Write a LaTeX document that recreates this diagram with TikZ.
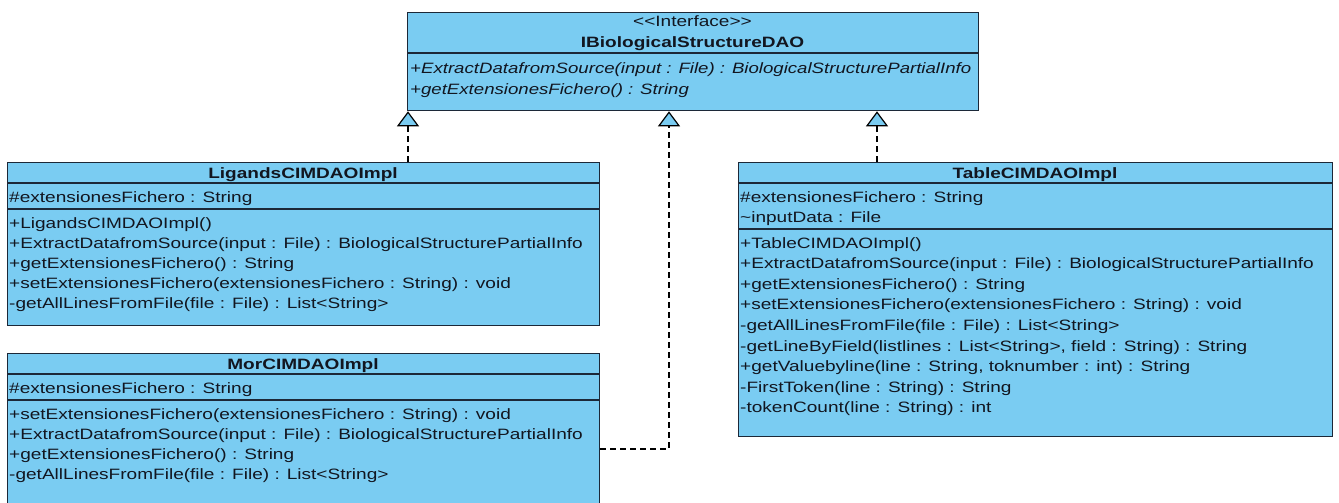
\documentclass[tikz,border=0pt]{standalone}
\usepackage{fontspec}
\setmainfont{Liberation Sans}[FakeStretch=1.27]
\usetikzlibrary{arrows.meta,calc}

\definecolor{umlfill}{RGB}{122,204,242}
\definecolor{umlline}{RGB}{28,40,56}
\definecolor{umltext}{RGB}{18,22,32}

\begin{document}
\begin{tikzpicture}[x=1pt,y=-1pt,
  classbox/.style={draw=umlline, fill=umlfill, line width=1.3pt, rectangle,
    inner sep=0pt, anchor=north west},
  sepline/.style={draw=umlline, line width=1.1pt},
  ctitle/.style={font=\fontsize{15}{18}\selectfont\bfseries, text=umltext,
    anchor=base, inner sep=0pt},
  stereo/.style={font=\fontsize{15}{18}\selectfont, text=umltext,
    anchor=base, inner sep=0pt},
  member/.style={font=\fontsize{15}{18}\selectfont, text=umltext,
    anchor=base west, inner sep=0pt},
  imember/.style={member, font=\fontsize{15}{18}\selectfont\itshape},
  realize/.style={draw=black, line width=1.2pt, dash pattern=on 6pt off 4pt,
    -{Triangle[length=15pt,width=22pt,fill=umlfill]}},
]
\path[use as bounding box, fill=white] (0,0) rectangle (1339,503);
\clip (0,0) rectangle (1339,503);

% ---------- interface ----------
\node[classbox, minimum width=571pt, minimum height=98pt] (iface) at (407,12) {};
\draw[sepline] ($(iface.north west)+(0,41)$) -- ($(iface.north east)+(0,41)$);
\node[stereo] (ifS) at (692.5,27) {<{}<Interface>{}>};
\node[ctitle] (ifT) at (692.5,48) {IBiologicalStructureDAO};
\node[imember] (ifM1) at (410,74) {\scalebox{0.978}[1]{+ExtractDatafromSource(input : File) : BiologicalStructurePartialInfo}};
\node[imember] (ifM2) at (410,95) {\scalebox{0.978}[1]{+getExtensionesFichero() : String}};

% ---------- LigandsCIMDAOImpl ----------
\node[classbox, minimum width=592pt, minimum height=163pt] (lig) at (7,162) {};
\draw[sepline] ($(lig.north west)+(0,21)$) -- ($(lig.north east)+(0,21)$);
\draw[sepline] ($(lig.north west)+(0,47)$) -- ($(lig.north east)+(0,47)$);
\node[ctitle] (ligT) at (303,178) {LigandsCIMDAOImpl};
\node[member] (ligA1) at (9,202) {\#extensionesFichero : String};
\node[member] (ligM1) at (9,228) {+LigandsCIMDAOImpl()};
\node[member] (ligM2) at (9,248) {+ExtractDatafromSource(input : File) : BiologicalStructurePartialInfo};
\node[member] (ligM3) at (9,268) {+getExtensionesFichero() : String};
\node[member] (ligM4) at (9,288) {+setExtensionesFichero(extensionesFichero : String) : void};
\node[member] (ligM5) at (9,308) {-getAllLinesFromFile(file : File) : List<String>};

% ---------- MorCIMDAOImpl ----------
\node[classbox, minimum width=592pt, minimum height=170pt] (mor) at (7,353) {};
\draw[sepline] ($(mor.north west)+(0,21)$) -- ($(mor.north east)+(0,21)$);
\draw[sepline] ($(mor.north west)+(0,47)$) -- ($(mor.north east)+(0,47)$);
\node[ctitle] (morT) at (303,369) {MorCIMDAOImpl};
\node[member] (morA1) at (9,393) {\#extensionesFichero : String};
\node[member] (morM1) at (9,419) {+setExtensionesFichero(extensionesFichero : String) : void};
\node[member] (morM2) at (9,439) {+ExtractDatafromSource(input : File) : BiologicalStructurePartialInfo};
\node[member] (morM3) at (9,459) {+getExtensionesFichero() : String};
\node[member] (morM4) at (9,479) {-getAllLinesFromFile(file : File) : List<String>};

% ---------- TableCIMDAOImpl ----------
\node[classbox, minimum width=594pt, minimum height=274pt] (tab) at (738,162) {};
\draw[sepline] ($(tab.north west)+(0,21)$) -- ($(tab.north east)+(0,21)$);
\draw[sepline] ($(tab.north west)+(0,67)$) -- ($(tab.north east)+(0,67)$);
\node[ctitle] (tabT) at (1035,178) {TableCIMDAOImpl};
\node[member] (tabA1) at (740,202) {\#extensionesFichero : String};
\node[member] (tabA2) at (740,222) {\textasciitilde inputData : File};
\node[member] (tabM1) at (740,248) {+TableCIMDAOImpl()};
\node[member] (tabM2) at (740,268.6) {+ExtractDatafromSource(input : File) : BiologicalStructurePartialInfo};
\node[member] (tabM3) at (740,289.2) {+getExtensionesFichero() : String};
\node[member] (tabM4) at (740,309.8) {+setExtensionesFichero(extensionesFichero : String) : void};
\node[member] (tabM5) at (740,330.4) {-getAllLinesFromFile(file : File) : List<String>};
\node[member] (tabM6) at (740,351) {-getLineByField(listlines : List<String>, field : String) : String};
\node[member] (tabM7) at (740,371.6) {+getValuebyline(line : String, toknumber : int) : String};
\node[member] (tabM8) at (740,392.2) {-FirstToken(line : String) : String};
\node[member] (tabM9) at (740,412.8) {-tokenCount(line : String) : int};

% ---------- realizations ----------
\coordinate (aL) at ($(iface.south west)+(1,0)$);
\coordinate (aM) at ($(iface.south west)+(262,0)$);
\coordinate (aR) at ($(iface.south west)+(470,0)$);
\coordinate (morPort) at ($(mor.north east)+(0,96)$);
\draw[realize] (lig.north -| aL) -- (aL);
\draw[realize] (tab.north -| aR) -- (aR);
\draw[realize] (morPort) -| (aM);
\end{tikzpicture}
\end{document}
